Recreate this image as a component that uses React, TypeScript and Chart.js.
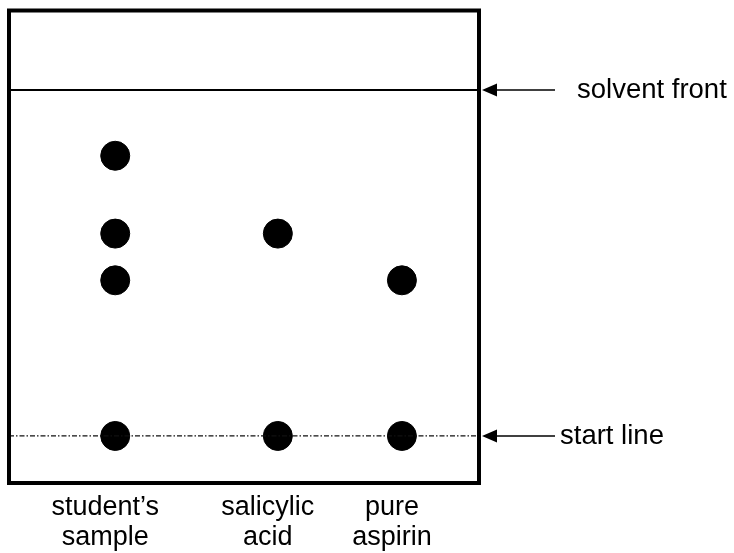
import React, { useEffect, useRef } from "react";
import { Chart, registerables } from "chart.js";

Chart.register(...registerables);

// Lanes (x position across the plate, 0–100) and their labels
const laneNames = ["student's sample", "salicylic acid", "pure aspirin"];
const laneX = [22.6, 57.2, 83.6];
const laneLabels = [["student\u2019s", "sample"], ["salicylic", "acid"], ["pure", "aspirin"]];

// Spot Rf values per lane (0 = start line, 1 = solvent front)
const studentSpots = [0.81, 0.585, 0.45, 0];
const salicylicSpots = [0.585, 0];
const aspirinSpots = [0.45, 0];

// Reference lines
const solventFrontRf = 1;
const startLineRf = 0;
const lineLabels = ["solvent front", "start line"];

const FONT = "'Liberation Sans', Arial, Helvetica, sans-serif";

const decorPlugin = {
  id: "tlcDecor",
  afterDraw(chart: any) {
    const { ctx, chartArea: ca, scales } = chart;
    ctx.save();
    // plate border
    ctx.strokeStyle = "#000";
    ctx.lineWidth = 4;
    ctx.strokeRect(ca.left, ca.top, ca.right - ca.left, ca.bottom - ca.top);

    const ys = [scales.y.getPixelForValue(solventFrontRf), scales.y.getPixelForValue(startLineRf)];
    const textOffsets = [98, 81];
    ys.forEach((y: number, i: number) => {
      const tip = ca.right + 3;
      // shaft
      ctx.beginPath();
      ctx.lineWidth = 1.6;
      ctx.moveTo(tip + 10, y);
      ctx.lineTo(ca.right + 76, y);
      ctx.stroke();
      // head
      ctx.beginPath();
      ctx.fillStyle = "#000";
      ctx.moveTo(tip, y);
      ctx.lineTo(tip + 15, y - 6.5);
      ctx.lineTo(tip + 15, y + 6.5);
      ctx.closePath();
      ctx.fill();
      // label
      ctx.font = `27.5px ${FONT}`;
      ctx.textAlign = "left";
      ctx.textBaseline = "middle";
      ctx.fillText(lineLabels[i], ca.right + textOffsets[i], y);
    });
    ctx.restore();
  },
};

export default function App() {
  const ref = useRef<HTMLCanvasElement | null>(null);

  useEffect(() => {
    document.body.style.margin = "0";
    const toPts = (rfs: number[], x: number) => rfs.map((y) => ({ x, y }));
    const chart = new Chart(ref.current as HTMLCanvasElement, {
      type: "scatter",
      data: {
        datasets: [
          {
            type: "line",
            label: lineLabels[0],
            data: [{ x: 0, y: solventFrontRf }, { x: 100, y: solventFrontRf }],
            borderColor: "#000",
            borderWidth: 2,
            pointRadius: 0,
          } as any,
          {
            type: "line",
            label: lineLabels[1],
            data: [{ x: 0, y: startLineRf }, { x: 100, y: startLineRf }],
            borderColor: "#111",
            borderWidth: 1.3,
            borderDash: [5, 2, 1.5, 2],
            pointRadius: 0,
          } as any,
          {
            label: laneNames[0],
            data: toPts(studentSpots, laneX[0]),
            backgroundColor: "#000",
            borderColor: "#000",
            pointRadius: 14.5,
          },
          {
            label: laneNames[1],
            data: toPts(salicylicSpots, laneX[1]),
            backgroundColor: "#000",
            borderColor: "#000",
            pointRadius: 14.5,
          },
          {
            label: laneNames[2],
            data: toPts(aspirinSpots, laneX[2]),
            backgroundColor: "#000",
            borderColor: "#000",
            pointRadius: 14.5,
          },
        ],
      },
      options: {
        animation: false,
        responsive: true,
        maintainAspectRatio: false,
        layout: { autoPadding: false, padding: { left: 9, top: 10.5, right: 255, bottom: 0 } },
        plugins: { legend: { display: false }, tooltip: { enabled: false } },
        scales: {
          x: {
            type: "linear",
            min: 0,
            max: 100,
            grid: { display: false, drawTicks: false },
            border: { display: false },
            afterBuildTicks: (scale: any) => {
              scale.ticks = laneX.map((v) => ({ value: v }));
            },
            afterFit: (scale: any) => {
              scale.height = 70;
            },
            ticks: {
              autoSkip: false,
              maxRotation: 0,
              padding: 9,
              labelOffset: -10,
              color: "#000",
              font: { family: FONT, size: 27, lineHeight: 1.12 },
              callback: (v: any) => {
                const i = laneX.indexOf(Number(v));
                return i >= 0 ? laneLabels[i] : "";
              },
            },
          },
          y: {
            display: false,
            min: -0.136,
            max: 1.23,
          },
        },
      },
      plugins: [decorPlugin],
    });
    return () => chart.destroy();
  }, []);

  return (
    <div style={{ position: "absolute", left: 0, top: 0, width: 734, height: 553, background: "#fff" }}>
      <canvas ref={ref} />
    </div>
  );
}
